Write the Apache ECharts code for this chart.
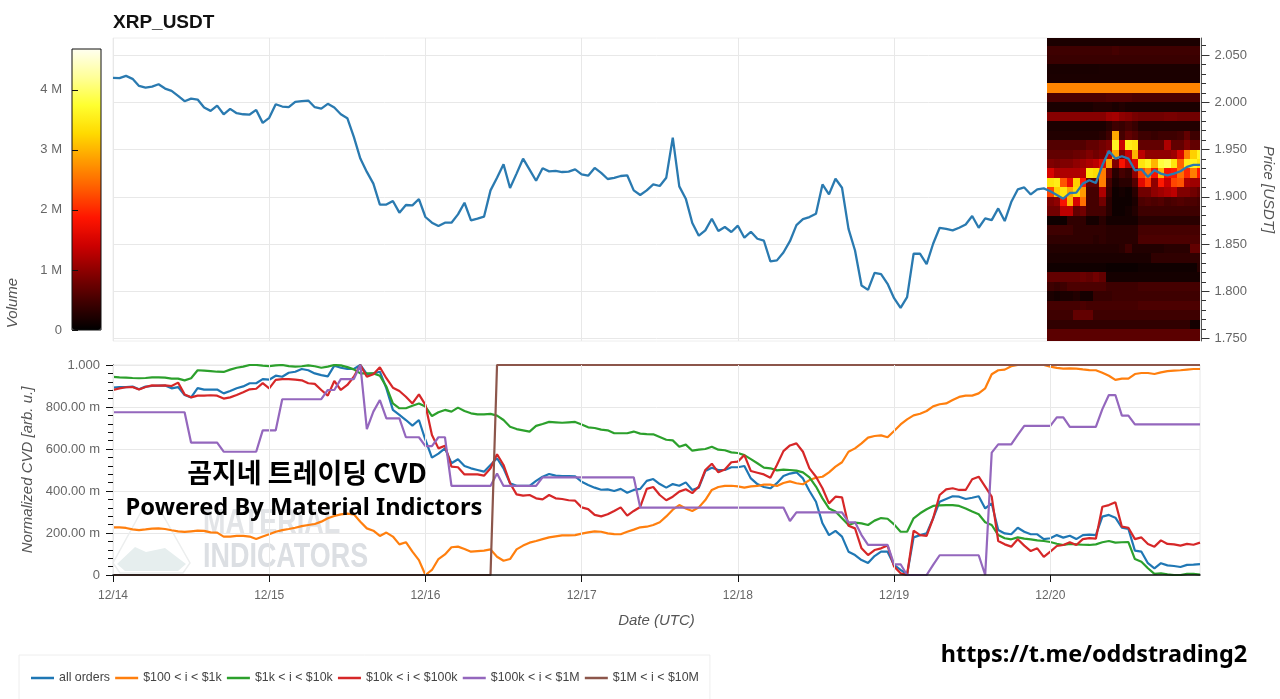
<!DOCTYPE html>
<html>
<head>
<meta charset="utf-8">
<title>XRP_USDT</title>
<script src="https://cdn.jsdelivr.net/npm/echarts@6/dist/echarts.min.js"></script>
<style>
html, body { margin: 0; padding: 0; background: #fff; overflow: hidden; }
#chart { width: 1280px; height: 699px; }
</style>
</head>
<body>
<div id="chart"></div>
<script>
// one value per hour, starting 12/14 00:00 UTC
var dayLabels = ['12/14', '12/15', '12/16', '12/17', '12/18', '12/19', '12/20'];
var dayHours = [0, 24, 48, 72, 96, 120, 144];
var priceTicks = [1.75, 1.80, 1.85, 1.90, 1.95, 2.00, 2.05];
var priceMinorTicks = [1.76, 1.77, 1.78, 1.79, 1.81, 1.82, 1.83, 1.84, 1.86, 1.87, 1.88, 1.89, 1.91, 1.92, 1.93, 1.94,
                       1.96, 1.97, 1.98, 1.99, 2.01, 2.02, 2.03, 2.04, 2.06];

var price = [
  2.0258, 2.0255, 2.0279, 2.0248, 2.0173, 2.0156, 2.0166, 2.0191, 2.0145, 2.0121, 2.0068, 2.0011,
  2.0039, 2.0029, 1.9944, 1.9909, 1.9965, 1.9873, 1.9930, 1.9884, 1.9873, 1.9870, 1.9919, 1.9782,
  1.9835, 1.9979, 1.9955, 1.9948, 2.0004, 2.0011, 2.0018, 1.9948, 1.9933, 1.9983, 1.9944, 1.9873,
  1.9831, 1.9633, 1.9404, 1.9263, 1.9139, 1.8917, 1.8917, 1.8956, 1.8832, 1.8913, 1.8909, 1.8976,
  1.8786, 1.8726, 1.8690, 1.8726, 1.8726, 1.8814, 1.8937, 1.8750, 1.8768, 1.8789, 1.9068, 1.9202,
  1.9343, 1.9093, 1.9245, 1.9403, 1.9287, 1.9170, 1.9301, 1.9269, 1.9273, 1.9262, 1.9266, 1.9290,
  1.9237, 1.9223, 1.9305, 1.9252, 1.9188, 1.9199, 1.9220, 1.9227, 1.9068, 1.9019, 1.9068, 1.9132,
  1.9114, 1.9202, 1.9626, 1.9110, 1.8980, 1.8722, 1.8588, 1.8644, 1.8768, 1.8637, 1.8680, 1.8627,
  1.8694, 1.8567, 1.8630, 1.8556, 1.8535, 1.8316, 1.8327, 1.8410, 1.8530, 1.8700, 1.8764, 1.8785,
  1.8820, 1.9131, 1.9025, 1.9191, 1.9096, 1.8661, 1.8432, 1.8061, 1.8015, 1.8195, 1.8181, 1.8079,
  1.7927, 1.7825, 1.7938, 1.8397, 1.8397, 1.8287, 1.8503, 1.8672, 1.8661, 1.8644, 1.8672, 1.8707,
  1.8796, 1.8672, 1.8771, 1.8753, 1.8877, 1.8743, 1.8944, 1.9078, 1.9099, 1.9025, 1.9078, 1.9089,
  1.9058, 1.9019, 1.8980, 1.9040, 1.9044, 1.9139, 1.9175, 1.9146, 1.9333, 1.9485, 1.9404, 1.9429,
  1.9404, 1.9280, 1.9291, 1.9210, 1.9280, 1.9245, 1.9227, 1.9245, 1.9270, 1.9316, 1.9337, 1.9337
];

var allOrders = [
  0.892, 0.895, 0.895, 0.897, 0.884, 0.897, 0.900, 0.902, 0.902, 0.889, 0.895, 0.857,
  0.846, 0.890, 0.883, 0.883, 0.883, 0.865, 0.876, 0.889, 0.898, 0.913, 0.913, 0.933,
  0.930, 0.949, 0.944, 0.963, 0.968, 0.981, 0.975, 0.960, 0.952, 0.946, 0.997, 0.987,
  0.981, 0.981, 1.000, 0.956, 0.960, 0.968, 0.889, 0.786, 0.762, 0.738, 0.711, 0.738,
  0.643, 0.559, 0.578, 0.603, 0.532, 0.551, 0.519, 0.508, 0.500, 0.492, 0.524, 0.556,
  0.508, 0.437, 0.425, 0.425, 0.424, 0.448, 0.468, 0.481, 0.473, 0.471, 0.471, 0.470,
  0.444, 0.429, 0.416, 0.406, 0.408, 0.400, 0.410, 0.392, 0.405, 0.410, 0.448, 0.457,
  0.433, 0.416, 0.433, 0.425, 0.441, 0.405, 0.416, 0.495, 0.511, 0.500, 0.500, 0.513,
  0.513, 0.519, 0.460, 0.433, 0.419, 0.413, 0.437, 0.471, 0.483, 0.489, 0.460, 0.400,
  0.349, 0.246, 0.190, 0.210, 0.183, 0.111, 0.095, 0.071, 0.057, 0.090, 0.111, 0.111,
  0.048, 0.024, 0.003, 0.179, 0.190, 0.198, 0.270, 0.349, 0.362, 0.375, 0.373, 0.362,
  0.368, 0.375, 0.317, 0.341, 0.214, 0.198, 0.194, 0.225, 0.206, 0.194, 0.194, 0.171,
  0.175, 0.190, 0.178, 0.187, 0.171, 0.190, 0.192, 0.190, 0.278, 0.286, 0.273, 0.225,
  0.219, 0.116, 0.111, 0.056, 0.032, 0.056, 0.046, 0.043, 0.038, 0.048, 0.049, 0.052
];

var range100to1k = [
  0.227, 0.227, 0.224, 0.217, 0.214, 0.217, 0.221, 0.222, 0.219, 0.213, 0.208, 0.205,
  0.208, 0.211, 0.210, 0.203, 0.202, 0.183, 0.183, 0.186, 0.186, 0.183, 0.171, 0.183,
  0.194, 0.206, 0.214, 0.219, 0.225, 0.233, 0.238, 0.243, 0.254, 0.270, 0.281, 0.289,
  0.292, 0.289, 0.254, 0.222, 0.211, 0.186, 0.202, 0.183, 0.146, 0.156, 0.111, 0.071,
  0.000, 0.024, 0.076, 0.098, 0.132, 0.135, 0.124, 0.111, 0.114, 0.116, 0.122, 0.087,
  0.068, 0.076, 0.122, 0.140, 0.154, 0.162, 0.171, 0.179, 0.184, 0.189, 0.189, 0.190,
  0.197, 0.203, 0.208, 0.206, 0.198, 0.195, 0.194, 0.206, 0.216, 0.227, 0.230, 0.238,
  0.251, 0.279, 0.311, 0.333, 0.317, 0.305, 0.322, 0.357, 0.405, 0.419, 0.424, 0.425,
  0.422, 0.416, 0.422, 0.424, 0.430, 0.430, 0.424, 0.438, 0.446, 0.437, 0.432, 0.452,
  0.463, 0.468, 0.489, 0.516, 0.537, 0.587, 0.603, 0.627, 0.654, 0.662, 0.665, 0.656,
  0.686, 0.717, 0.741, 0.760, 0.768, 0.781, 0.803, 0.813, 0.817, 0.833, 0.848, 0.854,
  0.854, 0.865, 0.889, 0.956, 0.975, 0.978, 0.994, 1.000, 1.000, 1.000, 1.000, 1.000,
  0.992, 0.986, 0.983, 0.984, 0.983, 0.979, 0.976, 0.975, 0.963, 0.949, 0.929, 0.935,
  0.935, 0.957, 0.962, 0.962, 0.957, 0.965, 0.971, 0.973, 0.975, 0.978, 0.981, 0.981
];

var range1kto10k = [
  0.943, 0.941, 0.940, 0.938, 0.937, 0.938, 0.941, 0.941, 0.940, 0.935, 0.935, 0.927,
  0.937, 0.975, 0.973, 0.971, 0.968, 0.967, 0.978, 0.987, 0.992, 1.000, 1.000, 0.997,
  0.995, 0.998, 1.000, 0.995, 0.992, 0.994, 0.998, 0.994, 0.987, 0.992, 1.000, 0.998,
  0.990, 0.979, 0.960, 0.960, 0.960, 0.949, 0.897, 0.817, 0.794, 0.794, 0.806, 0.817,
  0.802, 0.757, 0.775, 0.786, 0.778, 0.797, 0.781, 0.770, 0.765, 0.765, 0.767, 0.759,
  0.738, 0.706, 0.695, 0.689, 0.683, 0.710, 0.719, 0.729, 0.727, 0.725, 0.727, 0.729,
  0.717, 0.703, 0.700, 0.692, 0.689, 0.675, 0.675, 0.675, 0.683, 0.673, 0.671, 0.670,
  0.657, 0.644, 0.641, 0.611, 0.621, 0.592, 0.597, 0.600, 0.611, 0.597, 0.594, 0.584,
  0.581, 0.571, 0.552, 0.532, 0.511, 0.508, 0.498, 0.502, 0.500, 0.497, 0.489, 0.465,
  0.421, 0.365, 0.317, 0.302, 0.270, 0.238, 0.249, 0.246, 0.238, 0.259, 0.271, 0.268,
  0.241, 0.206, 0.206, 0.270, 0.294, 0.313, 0.329, 0.332, 0.333, 0.333, 0.329, 0.317,
  0.302, 0.289, 0.251, 0.238, 0.190, 0.175, 0.170, 0.179, 0.173, 0.170, 0.165, 0.162,
  0.157, 0.149, 0.143, 0.148, 0.146, 0.144, 0.143, 0.146, 0.156, 0.162, 0.154, 0.156,
  0.157, 0.076, 0.063, 0.032, 0.005, 0.008, 0.003, 0.000, 0.000, 0.005, 0.006, 0.002
];

var range10kto100k = [
  0.881, 0.889, 0.894, 0.895, 0.883, 0.895, 0.903, 0.902, 0.903, 0.900, 0.916, 0.860,
  0.846, 0.854, 0.854, 0.856, 0.854, 0.840, 0.846, 0.857, 0.870, 0.884, 0.887, 0.914,
  0.889, 0.929, 0.933, 0.933, 0.930, 0.927, 0.913, 0.910, 0.881, 0.854, 0.924, 0.881,
  0.905, 0.944, 1.000, 0.944, 0.956, 0.989, 0.937, 0.892, 0.876, 0.849, 0.817, 0.860,
  0.810, 0.667, 0.603, 0.616, 0.516, 0.513, 0.479, 0.479, 0.479, 0.473, 0.508, 0.575,
  0.524, 0.437, 0.384, 0.378, 0.381, 0.365, 0.360, 0.381, 0.365, 0.362, 0.356, 0.354,
  0.322, 0.314, 0.286, 0.279, 0.289, 0.305, 0.322, 0.283, 0.305, 0.324, 0.410, 0.419,
  0.381, 0.356, 0.373, 0.397, 0.408, 0.390, 0.421, 0.500, 0.530, 0.489, 0.502, 0.537,
  0.540, 0.571, 0.495, 0.487, 0.479, 0.463, 0.524, 0.590, 0.617, 0.627, 0.587, 0.508,
  0.468, 0.413, 0.341, 0.373, 0.370, 0.235, 0.222, 0.127, 0.095, 0.119, 0.127, 0.140,
  0.040, 0.008, 0.000, 0.211, 0.190, 0.186, 0.270, 0.381, 0.408, 0.413, 0.405, 0.405,
  0.456, 0.468, 0.421, 0.373, 0.162, 0.146, 0.135, 0.170, 0.140, 0.114, 0.127, 0.086,
  0.111, 0.138, 0.143, 0.156, 0.143, 0.171, 0.176, 0.173, 0.325, 0.333, 0.346, 0.230,
  0.225, 0.171, 0.179, 0.148, 0.135, 0.165, 0.148, 0.146, 0.140, 0.148, 0.144, 0.154
];

var range100kto1m = [
  0.775, 0.775, 0.775, 0.775, 0.775, 0.775, 0.775, 0.775, 0.775, 0.775, 0.775, 0.775,
  0.630, 0.630, 0.630, 0.630, 0.630, 0.587, 0.587, 0.587, 0.587, 0.587, 0.587, 0.689,
  0.689, 0.689, 0.837, 0.837, 0.837, 0.837, 0.837, 0.837, 0.837, 0.881, 0.881, 0.933,
  0.933, 0.933, 1.000, 0.695, 0.778, 0.833, 0.746, 0.746, 0.746, 0.656, 0.656, 0.656,
  0.614, 0.614, 0.656, 0.656, 0.424, 0.424, 0.424, 0.424, 0.424, 0.424, 0.424, 0.483,
  0.424, 0.424, 0.424, 0.424, 0.424, 0.424, 0.465, 0.465, 0.465, 0.465, 0.465, 0.465,
  0.465, 0.465, 0.465, 0.465, 0.465, 0.465, 0.465, 0.465, 0.465, 0.321, 0.321, 0.321,
  0.321, 0.321, 0.321, 0.321, 0.321, 0.321, 0.321, 0.321, 0.321, 0.321, 0.321, 0.321,
  0.321, 0.321, 0.321, 0.321, 0.321, 0.321, 0.321, 0.321, 0.257, 0.298, 0.298, 0.298,
  0.298, 0.298, 0.298, 0.298, 0.298, 0.251, 0.251, 0.190, 0.143, 0.143, 0.143, 0.143,
  0.051, 0.051, 0.000, 0.000, 0.000, 0.000, 0.048, 0.094, 0.094, 0.094, 0.094, 0.094,
  0.094, 0.094, 0.000, 0.583, 0.622, 0.622, 0.622, 0.667, 0.710, 0.710, 0.710, 0.710,
  0.710, 0.751, 0.751, 0.705, 0.705, 0.705, 0.705, 0.705, 0.790, 0.857, 0.857, 0.759,
  0.759, 0.717, 0.717, 0.717, 0.717, 0.717, 0.717, 0.717, 0.717, 0.717, 0.717, 0.717
];

var range1mto10m = [
  0, 0, 0, 0, 0, 0, 0, 0, 0, 0, 0, 0, 0, 0, 0, 0, 0, 0, 0, 0, 0, 0, 0, 0,
  0, 0, 0, 0, 0, 0, 0, 0, 0, 0, 0, 0, 0, 0, 0, 0, 0, 0, 0, 0, 0, 0, 0, 0,
  0, 0, 0, 0, 0, 0, 0, 0, 0, 0, 0, 1, 1, 1, 1, 1, 1, 1, 1, 1, 1, 1, 1, 1,
  1, 1, 1, 1, 1, 1, 1, 1, 1, 1, 1, 1, 1, 1, 1, 1, 1, 1, 1, 1, 1, 1, 1, 1,
  1, 1, 1, 1, 1, 1, 1, 1, 1, 1, 1, 1, 1, 1, 1, 1, 1, 1, 1, 1, 1, 1, 1, 1,
  1, 1, 1, 1, 1, 1, 1, 1, 1, 1, 1, 1, 1, 1, 1, 1, 1, 1, 1, 1, 1, 1, 1, 1,
  1, 1, 1, 1, 1, 1, 1, 1, 1, 1, 1, 1, 1, 1, 1, 1, 1, 1, 1, 1, 1, 1, 1, 1
];

var sizeNames = ['all orders', '$100 < i < $1k', '$1k < i < $10k', '$10k < i < $100k', '$100k < i < $1M', '$1M < i < $10M'];
var sizeColors = ['#1f77b4', '#ff7f0e', '#2ca02c', '#d62728', '#9467bd', '#8c564b'];
var sizeValues = [allOrders, range100to1k, range1kto10k, range10kto100k, range100kto1m, range1mto10m];

// order book heatmap: hours 144..167, rows are 0.01 wide price bins, volume in millions
var heatFirstHour = 144;
var heatBins = [2.06, 2.05, 2.04, 2.03, 2.02, 2.01, 2.00, 1.99, 1.98, 1.97, 1.96, 1.95, 1.94, 1.93, 1.92, 1.91, 1.90,
                1.89, 1.88, 1.87, 1.86, 1.85, 1.84, 1.83, 1.82, 1.81, 1.80, 1.79, 1.78, 1.77, 1.76, 1.75, 1.74];
var heatRows = [
  [.2,.2,.2,.2,.2,.2,.2,.2,.2,.2,.2,.2,.2,.2,.2,.2,.2,.2,.2,.2,.2,.2,.2,.2],
  [.45,.45,.45,.45,.45,.45,.45,.45,.45,.45,.5,.45,.45,.45,.45,.45,.45,.45,.45,.45,.45,.45,.45,.45],
  [.42,.42,.42,.42,.42,.42,.42,.42,.42,.42,.42,.42,.42,.42,.42,.42,.42,.42,.42,.42,.42,.42,.42,.42],
  [.18,.18,.18,.18,.18,.18,.18,.18,.2,.2,.2,.2,.2,.2,.2,.2,.2,.2,.2,.2,.2,.2,.2,.2],
  [.2,.2,.2,.2,.2,.2,.2,.2,.2,.2,.2,.2,.2,.2,.2,.2,.2,.2,.2,.2,.2,.2,.2,.2],
  [2.65,2.65,2.65,2.65,2.65,2.65,2.65,2.65,2.65,2.65,2.65,2.65,2.65,2.65,2.65,2.65,2.65,2.65,2.65,2.65,2.65,2.65,2.65,2.65],
  [.55,.55,.55,.55,.55,.55,.55,.55,.55,.6,.6,.6,.6,.55,.55,.55,.55,.55,.55,.55,.55,.55,.55,.55],
  [.2,.2,.2,.2,.2,.2,.2,.25,.25,.25,.2,.25,.2,.2,.2,.2,.2,.2,.2,.2,.2,.2,.2,.2],
  [.95,.95,.95,.95,.95,.95,.95,.95,.95,1.1,1.15,1.0,.95,.85,.8,.8,.8,.8,.85,.85,.8,.8,.8,.8],
  [.2,.2,.2,.2,.2,.2,.2,.2,.2,.3,.45,.4,.5,.4,.25,.25,.25,.25,.25,.25,.25,.25,.25,.25],
  [.25,.25,.25,.25,.25,.25,.25,.25,.3,.45,2.9,.5,.7,.6,.45,.45,.4,.45,.45,.45,.5,.7,.45,.45],
  [.6,.6,.6,.6,.6,.6,.7,.7,.8,.9,3.6,1.4,3.5,3.4,.7,.7,.7,.7,1.2,.7,.7,.9,.7,.7],
  [.7,.7,.7,.7,.75,.8,.9,.8,.9,1.3,2.9,.9,1.4,3.0,1.3,1.0,1.0,1.0,1.0,1.1,1.5,2.6,3.2,3.6],
  [.9,.85,.9,.9,1.0,1.1,1.2,1.3,1.6,2.9,.9,1.8,1.3,1.6,3.4,3.6,3.0,3.8,3.9,3.4,2.4,3.5,3.6,3.4],
  [1.5,1.2,1.2,1.2,1.2,1.3,3.4,3.3,2.6,.8,.3,.5,.4,1.0,2.2,2.6,1.8,3.0,1.8,1.9,2.5,2.0,2.6,1.9],
  [3.4,3.5,2.3,1.7,3.2,1.9,.7,.7,2.6,.5,.2,.3,.3,.6,1.6,2.1,1.0,1.9,1.4,2.2,2.3,1.2,1.1,1.1],
  [2.2,3.2,3.4,2.9,3.3,2.8,.5,.5,1.2,.4,.1,.15,.1,.3,.8,.8,1.0,1.1,1.2,1.3,.9,.9,.8,.7],
  [.9,1.0,1.8,3.0,1.5,2.5,.5,.5,.8,.3,.1,.1,.1,.2,.55,.6,.55,.6,.5,.55,.6,.55,.55,.5],
  [.8,.8,1.3,1.3,.7,.8,.5,.5,.5,.3,.1,.1,.15,.25,.45,.45,.45,.45,.45,.45,.45,.45,.45,.45],
  [.1,.1,.1,.35,.35,.35,.15,.15,.3,.15,.15,.15,.15,.15,.3,.3,.3,.3,.3,.3,.3,.3,.3,.3],
  [.45,.45,.45,.45,.35,.35,.35,.35,.35,.3,.3,.3,.3,.3,.5,.5,.5,.5,.5,.5,.5,.5,.5,.5],
  [.35,.35,.35,.35,.35,.35,.35,.3,.35,.3,.3,.3,.3,.3,.55,.55,.55,.55,.55,.55,.55,.55,.55,.55],
  [.25,.25,.25,.25,.25,.25,.25,.25,.25,.25,.25,.3,.45,.25,.25,.25,.25,.25,.3,.3,.3,.3,.7,.7],
  [.2,.2,.2,.2,.2,.2,.2,.2,.2,.2,.2,.2,.2,.2,.2,.2,.35,.35,.35,.35,.35,.35,.35,.35],
  [.12,.12,.12,.12,.12,.12,.12,.12,.12,.08,.08,.08,.08,.08,.12,.12,.12,.12,.12,.12,.12,.12,.12,.3],
  [.7,.7,.7,.7,.7,.75,.7,.8,.7,.15,.15,.15,.15,.15,.15,.15,.15,.15,.15,.15,.15,.15,.15,.15],
  [.45,.4,.45,.55,.55,.55,.55,.55,.55,.45,.45,.45,.45,.45,.5,.5,.5,.5,.5,.5,.5,.5,.5,.5],
  [.2,.15,.2,.2,.25,.15,.15,.4,.4,.4,.45,.45,.45,.45,.45,.45,.45,.45,.45,.45,.45,.45,.45,.45],
  [.5,.5,.5,.5,.5,.55,.5,.5,.5,.5,.5,.5,.5,.5,.55,.55,.55,.55,.55,.55,.55,.55,.55,.55],
  [.45,.45,.45,.45,.7,.7,.7,.45,.45,.45,.45,.45,.45,.45,.45,.45,.45,.45,.45,.45,.45,.45,.45,.45],
  [.35,.35,.35,.35,.35,.35,.35,.35,.35,.35,.35,.35,.35,.35,.35,.35,.35,.35,.35,.35,.35,.35,.15,.15],
  [.65,.65,.65,.65,.65,.65,.65,.65,.65,.65,.65,.65,.65,.65,.65,.65,.65,.65,.65,.65,.65,.65,.65,.65],
  [.65,.65,.65,.65,.65,.65,.65,.65,.65,.65,.65,.65,.65,.65,.65,.65,.65,.65,.65,.65,.65,.65,.65,.65]
];
var hotColors = ['#000000', '#400000', '#850000', '#cc0000', '#ff1500', '#ff5a00', '#ff9a00', '#ffda00', '#ffff30', '#ffff99', '#fffff0'];

var heatData = [];
heatRows.forEach(function (row, r) {
    row.forEach(function (vol, c) {
        heatData.push([heatFirstHour + c, heatBins[r], vol]);
    });
});

function indexed(list) {
    return list.map(function (v, i) { return [i, v]; });
}

// edges are rounded so neighbouring cells share a pixel boundary
function renderHeatCell(params, api) {
    var a = api.coord([api.value(0) - 0.5, api.value(1) + 0.01]);
    var b = api.coord([api.value(0) + 0.5, api.value(1)]);
    var x0 = Math.round(a[0]), x1 = Math.round(b[0]);
    var y0 = Math.round(a[1]), y1 = Math.round(b[1]);
    return {
        type: 'rect',
        shape: { x: x0, y: y0, width: x1 - x0, height: y1 - y0 },
        style: { fill: api.visual('color') }
    };
}

var labelFont = 'Liberation Sans';
var labelColor = '#666';
var nameColor = '#555';
var gridColor = '#e8e8e8';
var series = [
    {
        name: 'volume',
        type: 'custom',
        coordinateSystem: 'cartesian2d',
        xAxisIndex: 0,
        yAxisIndex: 0,
        renderItem: renderHeatCell,
        encode: { x: 0, y: 1 },
        clip: true,
        silent: true,
        data: heatData
    },
    {
        name: 'price',
        type: 'line',
        xAxisIndex: 0,
        yAxisIndex: 0,
        symbol: 'none',
        z: 5,
        lineStyle: { color: '#2a7ab0', width: 2.3 },
        itemStyle: { color: '#2a7ab0' },
        data: indexed(price)
    }
];
sizeNames.forEach(function (name, i) {
    series.push({
        name: name,
        type: 'line',
        xAxisIndex: 1,
        yAxisIndex: 1,
        symbol: 'none',
        lineStyle: { color: sizeColors[i], width: 2.2 },
        itemStyle: { color: sizeColors[i] },
        data: indexed(sizeValues[i])
    });
});

function dayLabel(v) {
    return dayLabels[v / 24] || '';
}

function cvdLabel(v) {
    if (v === 0) return '0';
    if (v >= 1) return v.toFixed(3);
    return (v * 1000).toFixed(2) + ' m';
}

var option = {
    animation: false,
    textStyle: { fontFamily: labelFont },
    title: {
        text: 'XRP_USDT',
        left: 113,
        top: 13,
        padding: 0,
        textStyle: { fontFamily: labelFont, fontWeight: 'bold', fontSize: 19, color: '#111' }
    },
    legend: {
        data: sizeNames,
        left: 19,
        top: 655,
        orient: 'horizontal',
        padding: [17, 11, 30, 12],
        icon: 'rect',
        itemWidth: 23,
        itemHeight: 2.5,
        itemGap: 5.2,
        backgroundColor: '#fff',
        borderColor: '#eeeeee',
        borderWidth: 1,
        textStyle: { fontFamily: labelFont, fontSize: 12.4, color: '#444' }
    },
    visualMap: {
        type: 'continuous',
        seriesIndex: 0,
        dimension: 2,
        min: 0,
        max: 4.68,
        left: 72,
        top: 49,
        padding: 0,
        itemWidth: 29,
        itemHeight: 281,
        text: ['', ''],
        showLabel: false,
        calculable: false,
        hoverLink: false,
        inRange: { color: hotColors }
    },
    grid: [
        { left: 113, top: 38, width: 1087, height: 303, outerBoundsMode: 'none', show: true, borderColor: '#eeeeee', borderWidth: 1 },
        { left: 113, top: 365, width: 1087, height: 210, outerBoundsMode: 'none', show: true, borderColor: '#e8e8e8', borderWidth: 1 },
        { left: 72, top: 49, width: 29, height: 281, outerBoundsMode: 'none', show: true, z: 10, borderColor: '#111', borderWidth: 1, backgroundColor: 'transparent' }
    ],
    xAxis: [
        {
            type: 'value', gridIndex: 0, min: 0, max: 167, interval: 24,
            axisLine: { show: false }, axisTick: { show: false }, axisLabel: { show: false },
            splitLine: { show: true, lineStyle: { color: gridColor } }
        },
        {
            type: 'value', gridIndex: 1, min: 0, max: 167, interval: 24, z: 6,
            name: 'Date (UTC)', nameLocation: 'middle', nameGap: 38,
            nameTextStyle: { fontStyle: 'italic', fontSize: 15, color: nameColor },
            axisLine: { lineStyle: { color: '#111', width: 1.5 } },
            axisTick: { length: 7, lineStyle: { color: '#111' }, customValues: dayHours },
            axisLabel: { formatter: dayLabel, fontSize: 12, color: labelColor, margin: 15, showMaxLabel: false },
            splitLine: { show: true, lineStyle: { color: gridColor } }
        },
        { type: 'value', gridIndex: 2, min: 0, max: 1, show: false }
    ],
    yAxis: [
        {
            type: 'value', gridIndex: 0, position: 'right', offset: 1.5, min: 1.7474, max: 2.068,
            name: 'Price [USDT]', nameLocation: 'middle', nameGap: 59, nameRotate: -90,
            nameTextStyle: { fontStyle: 'italic', fontSize: 15, color: nameColor },
            axisLine: { show: true, onZero: false, lineStyle: { color: '#555' } },
            axisTick: { show: true, length: 8, lineStyle: { color: '#333' }, customValues: priceTicks },
            axisLabel: {
                fontSize: 13, color: labelColor, margin: 13, customValues: priceTicks,
                formatter: function (v) { return v.toFixed(3); }
            },
            splitLine: { show: true, lineStyle: { color: gridColor } }
        },
        {
            type: 'value', gridIndex: 1, min: 0, max: 1, interval: 0.2,
            name: 'Normalized CVD [arb. u.]', nameLocation: 'middle', nameGap: 77,
            nameTextStyle: { fontStyle: 'italic', fontSize: 15, color: nameColor },
            axisLine: { show: true, onZero: false, lineStyle: { color: '#111' } },
            axisTick: { show: true, length: 7, lineStyle: { color: '#111' } },
            minorTick: { show: true, splitNumber: 5, length: 5, lineStyle: { color: '#111' } },
            axisLabel: { formatter: cvdLabel, fontSize: 13, color: labelColor, margin: 13 },
            splitLine: { show: true, lineStyle: { color: gridColor } }
        },
        {
            type: 'value', gridIndex: 2, min: 0, max: 4.68, interval: 1, z: 10,
            axisLine: { show: false, onZero: false },
            axisTick: { show: true, inside: true, length: 6, lineStyle: { color: '#111' } },
            axisLabel: {
                fontSize: 13, color: labelColor, margin: 10, showMaxLabel: false,
                formatter: function (v) { return v === 0 ? '0' : v + ' M'; }
            },
            splitLine: { show: false }
        },
        {
            // short price ticks at every 0.01
            type: 'value', gridIndex: 0, position: 'right', offset: 1.5, min: 1.7474, max: 2.068,
            axisLine: { show: false, onZero: false },
            axisTick: { show: true, length: 4.5, lineStyle: { color: '#333' }, customValues: priceMinorTicks },
            axisLabel: { show: false },
            splitLine: { show: false }
        }
    ],
    graphic: [
        // material indicators watermark
        { type: 'polygon', z: 1, silent: true,
          shape: { points: [[142, 510], [113, 563], [120, 573], [183, 573], [190, 563], [160, 510]] },
          style: { fill: 'transparent', stroke: '#eceeee', lineWidth: 1.5 } },
        { type: 'polygon', z: 1, silent: true,
          shape: { points: [[117, 564], [135, 547], [146, 552], [165, 548], [186, 564], [178, 571], [125, 571]] },
          style: { fill: '#e6eeee' } },
        { type: 'text', z: 1, silent: true, x: 203, y: 523, scaleX: 0.77,
          style: { text: 'MATERIAL', fontFamily: labelFont, fontWeight: 'bold', fontSize: 35, fill: '#e2e4e7', textVerticalAlign: 'middle' } },
        { type: 'text', z: 1, silent: true, x: 203, y: 557, scaleX: 0.77,
          style: { text: 'INDICATORS', fontFamily: labelFont, fontWeight: 'bold', fontSize: 35, fill: '#dcdfe3', textVerticalAlign: 'middle' } },
        // overlay captions
        { type: 'text', z: 100, silent: true, x: 307, y: 473,
          style: { text: '곰지네 트레이딩 CVD', fontFamily: 'Noto Sans CJK KR', fontWeight: 'bold', fontSize: 27, fill: '#000', textAlign: 'center', textVerticalAlign: 'middle' } },
        { type: 'text', z: 100, silent: true, x: 304, y: 508,
          style: { text: 'Powered By Material Indictors', fontFamily: 'Noto Sans', fontWeight: 'bold', fontSize: 23.7, fill: '#000', textAlign: 'center', textVerticalAlign: 'middle' } },
        { type: 'text', z: 100, silent: true, x: 1094, y: 655,
          style: { text: 'https://t.me/oddstrading2', fontFamily: 'Noto Sans', fontWeight: 'bold', fontSize: 23.4, fill: '#000', textAlign: 'center', textVerticalAlign: 'middle' } },
        { type: 'text', z: 100, silent: true, x: 13, y: 303, rotation: Math.PI / 2,
          style: { text: 'Volume', fontFamily: labelFont, fontStyle: 'italic', fontSize: 15, fill: nameColor, textAlign: 'center', textVerticalAlign: 'middle' } }
    ],
    series: series
};

var chart = echarts.init(document.getElementById('chart'));
chart.setOption(option);
</script>
</body>
</html>
